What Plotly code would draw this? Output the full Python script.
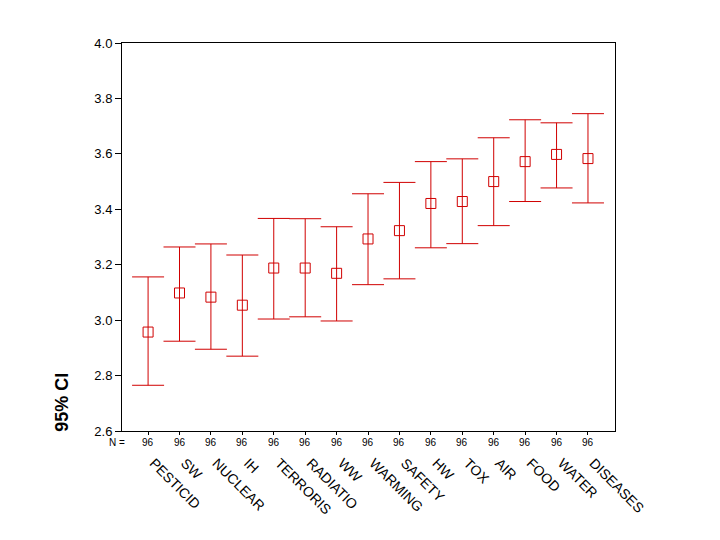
import plotly.graph_objects as go

categories = ["PESTICID", "SW", "NUCLEAR", "IH", "TERRORIS", "RADIATIO", "WW",
              "WARMING", "SAFETY", "HW", "TOX", "AIR", "FOOD", "WATER", "DISEASES"]
means = [2.957, 3.098, 3.083, 3.054, 3.188, 3.188, 3.169,
         3.293, 3.323, 3.421, 3.428, 3.500, 3.572, 3.598, 3.583]
upper = [3.156, 3.264, 3.275, 3.235, 3.367, 3.366, 3.337,
         3.456, 3.497, 3.572, 3.582, 3.658, 3.723, 3.712, 3.745]
lower = [2.765, 2.924, 2.895, 2.870, 3.004, 3.012, 2.997,
         3.128, 3.149, 3.261, 3.276, 3.341, 3.428, 3.477, 3.423]
n_values = [96] * 15
y_ticks = [2.6, 2.8, 3.0, 3.2, 3.4, 3.6, 3.8, 4.0]

idx = list(range(len(categories)))
err_plus = [u - m for u, m in zip(upper, means)]
err_minus = [m - l for m, l in zip(means, lower)]

RED = "#d00000"
FONT = "Liberation Sans, Arial, sans-serif"
PAD = "\u00a0\u00a0"

fig = go.Figure()
fig.add_trace(go.Scatter(
    x=idx, y=means, mode="markers",
    marker=dict(symbol="square-open", size=10, color=RED, line=dict(width=1, color=RED)),
    error_y=dict(type="data", symmetric=False, array=err_plus, arrayminus=err_minus,
                 color=RED, thickness=1, width=16),
    showlegend=False, hoverinfo="skip",
))

annotations = [dict(x=i, y=-0.03, xref="x", yref="paper", text=str(n),
                    showarrow=False, font=dict(family=FONT, size=10, color="black"),
                    xanchor="center", yanchor="middle")
               for i, n in zip(idx, n_values)]
annotations.append(dict(x=-0.68, y=-0.03, xref="x", yref="paper", text="N =",
                        showarrow=False, font=dict(family=FONT, size=10, color="black"),
                        xanchor="right", yanchor="middle"))
annotations.append(dict(x=-0.122, y=0.075, xref="paper", yref="paper", text="<b>95% CI</b>",
                        showarrow=False, textangle=-90,
                        font=dict(family=FONT, size=18, color="black"),
                        xanchor="center", yanchor="middle"))

fig.update_layout(
    width=704, height=524,
    margin=dict(l=114, r=97, t=35, b=101),
    paper_bgcolor="white", plot_bgcolor="white",
    font=dict(family=FONT, color="black"),
    annotations=annotations,
    xaxis=dict(
        range=[-0.83, 14.86], tickmode="array", tickvals=idx,
        ticktext=[PAD + c for c in categories],
        tickangle=45, tickfont=dict(size=14), ticks="outside", ticklen=3, tickcolor="black",
        showline=True, linecolor="black", linewidth=1, mirror=True,
        showgrid=False, zeroline=False, ticklabelstandoff=9,
    ),
    yaxis=dict(
        range=[2.6, 4.0], tickmode="array", tickvals=y_ticks,
        ticktext=[f"{v:.1f}" for v in y_ticks], tickfont=dict(size=13),
        ticks="outside", ticklen=6, tickcolor="black",
        showline=True, linecolor="black", linewidth=1, mirror=True,
        showgrid=False, zeroline=False,
    ),
)

fig.write_html("out.html")
